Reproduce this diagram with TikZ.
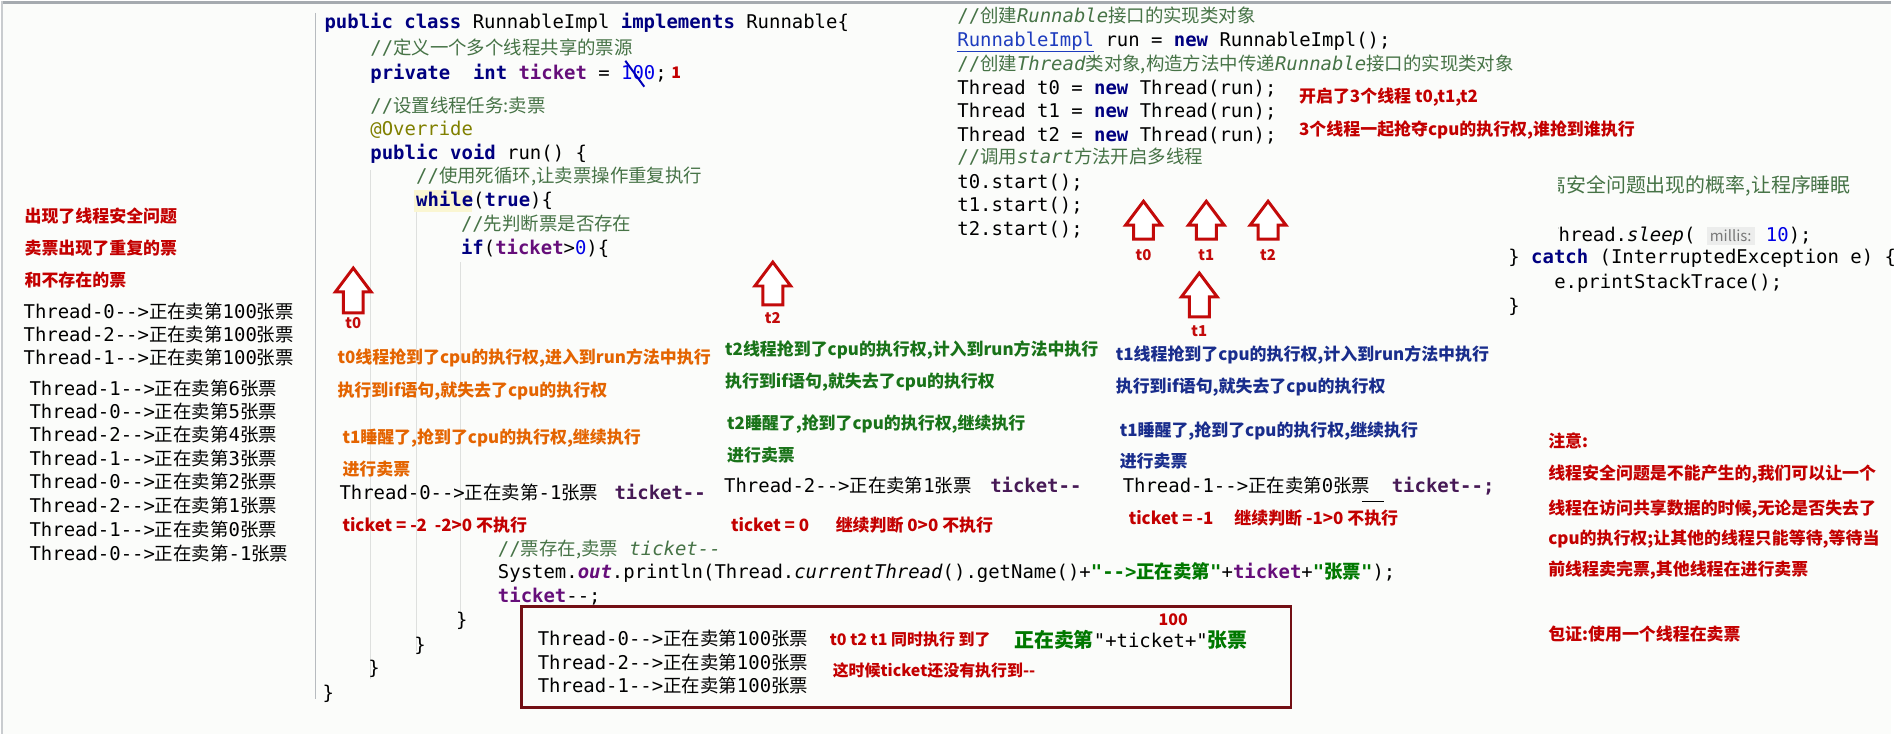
\documentclass[tikz,border=0pt]{standalone}
\usepackage{fontspec}
\usepackage{xcolor}
\usepackage{tikz}
\setmonofont{DejaVu Sans Mono}
\newfontfamily\cjk{Noto Sans CJK SC}

\definecolor{bgpaper}{RGB}{251,252,250}
\definecolor{framegray}{RGB}{165,170,175}
\definecolor{guidegray}{RGB}{222,224,222}
\definecolor{kwnavy}{RGB}{0,0,128}
\definecolor{fldpurple}{RGB}{102,14,122}
\definecolor{cmtgreen}{RGB}{70,115,70}
\definecolor{strgreen}{RGB}{0,120,0}
\definecolor{numblue}{RGB}{0,0,230}
\definecolor{annolive}{RGB}{128,128,0}
\definecolor{linkblue}{RGB}{30,60,190}
\definecolor{hintgray}{RGB}{120,120,120}
\definecolor{hintbg}{RGB}{236,237,236}
\definecolor{whilehl}{RGB}{250,246,210}
\definecolor{arrowred}{RGB}{195,10,10}
\definecolor{notered}{RGB}{195,0,0}
\definecolor{t0orange}{RGB}{228,100,0}
\definecolor{t2green}{RGB}{25,115,25}
\definecolor{t1navy}{RGB}{25,45,140}
\definecolor{boxred}{RGB}{115,15,20}
\definecolor{decpurple}{RGB}{70,25,85}

\newcommand\zh[1]{{\cjk\fontsize{18.5}{22}\selectfont #1}}
\newcommand\jkw[1]{\textcolor{kwnavy}{\bfseries #1}}
\newcommand\jfld[1]{\textcolor{fldpurple}{\bfseries #1}}
\newcommand\jcmt[1]{\textcolor{cmtgreen}{#1}}
\newcommand\jnum[1]{\textcolor{numblue}{#1}}
\newcommand\jstr[1]{\textcolor{strgreen}{\bfseries #1}}
\newcommand\hollowup[3]{\draw[hollow] (#1,#2) -- ++(18,24) -- ++(-8,0) -- ++(0,#3-24) -- ++(-20,0) -- ++(0,24-#3) -- ++(-8,0) -- cycle;}

\begin{document}
\begin{tikzpicture}[x=1pt,y=-1pt,
  code/.style={anchor=west,inner sep=0pt,text height=15pt,text depth=4pt,font=\ttfamily\fontsize{19}{23}\selectfont},
  ann/.style={anchor=west,inner sep=0pt,text height=14pt,text depth=4pt,font=\cjk\bfseries\fontsize{17}{20}\selectfont},
  small/.style={ann,font=\cjk\bfseries\fontsize{16}{19}\selectfont},
  lbl/.style={inner sep=0pt,text=arrowred,font=\cjk\bfseries\fontsize{15}{18}\selectfont},
  hollow/.style={draw=arrowred,fill=white,line width=3pt,line join=miter},
  guide/.style={draw=guidegray,line width=1pt}]
  \fill[bgpaper] (0,0) rectangle (1896,736);
  \draw[framegray,line width=3pt] (0,1.5) -- (1896,1.5);
  \draw[framegray!60,line width=2pt] (1,0) -- (1,736);
  \draw[framegray!80,line width=1.2pt] (315,12) -- (315,700);
  \draw[guide] (370,170) -- (370,680);
  \draw[guide] (416,196) -- (416,652);
  \draw[guide] (461,262) -- (461,624);
  \fill[whilehl] (414,190) rectangle (472,212);

  % RunnableImpl
  \node[code] (c1) at (324,22) {\jkw{public} \jkw{class} RunnableImpl \jkw{implements} Runnable\{};
  \node[code] (c2) at (370,48) {\jcmt{//\zh{定义一个多个线程共享的票源}}};
  \node[code] (c3) at (370,73) {\jkw{private}\ \ \jkw{int} \jfld{ticket} = \jnum{100};};
  \node[code,text=notered,font=\cjk\bfseries\fontsize{16}{19}\selectfont] (one) at (672,72) {1};
  \draw[numblue!80!black,line width=2pt] (626,60) -- (645,86);
  \node[code] (c4) at (370,106) {\jcmt{//\zh{设置线程任务:卖票}}};
  \node[code] (c5) at (370,129) {\textcolor{annolive}{@Override}};
  \node[code] (c6) at (370,154) {\jkw{public} \jkw{void} run() \{};
  \node[code] (c7) at (416,177) {\jcmt{//\zh{使用死循环,让卖票操作重复执行}}};
  \node[code] (c8) at (416,201) {\jkw{while}(\jkw{true})\{};
  \node[code] (c9) at (461,225) {\jcmt{//\zh{先判断票是否存在}}};
  \node[code] (c10) at (461,249) {\jkw{if}(\jfld{ticket}>\jnum{0})\{};
  \node[code] (c11) at (498,551) {\jcmt{//\zh{票存在,卖票} \textit{ticket--}}};
  \node[code] (c12) at (498,574) {System.\textit{\jfld{out}}.println(Thread.\textit{currentThread}().getName()+\jstr{"-->\zh{正在卖第}"}+\jfld{ticket}+\jstr{"\zh{张票}"});};
  \node[code] (c13) at (498,598) {\jfld{ticket}--;};
  \node[code] (c14) at (456,622) {\}};
  \node[code] (c15) at (414,647) {\}};
  \node[code] (c16) at (368,670) {\}};
  \node[code] (c17) at (322,695) {\}};

  % main
  \node[code] (r1) at (959,16) {\jcmt{//\zh{创建}\textit{Runnable}\zh{接口的实现类对象}}};
  \node[code] (r2) at (959,40) {\textcolor{linkblue}{\underline{RunnableImpl}} run = \jkw{new} RunnableImpl();};
  \node[code] (r3) at (959,64) {\jcmt{//\zh{创建}\textit{Thread}\zh{类对象,构造方法中传递}\textit{Runnable}\zh{接口的实现类对象}}};
  \node[code] (r4) at (959,88) {Thread t0 = \jkw{new} Thread(run);};
  \node[code] (r5) at (959,111) {Thread t1 = \jkw{new} Thread(run);};
  \node[code] (r6) at (959,135) {Thread t2 = \jkw{new} Thread(run);};
  \node[code] (r7) at (959,158) {\jcmt{//\zh{调用}\textit{start}\zh{方法开启多线程}}};
  \node[code] (r8) at (959,183) {t0.start();};
  \node[code] (r9) at (959,206) {t1.start();};
  \node[code] (r10) at (959,230) {t2.start();};
  \node[ann,text=notered] (e1) at (1302,97) {开启了3个线程 t0,t1,t2};
  \node[ann,text=notered] (e2) at (1302,130) {3个线程一起抢夺cpu的执行权,谁抢到谁执行};
  \hollowup{1146}{201}{38}
  \hollowup{1209}{201}{38}
  \hollowup{1271}{201}{38}
  \node[lbl] (s0) at (1146,255) {t0};
  \node[lbl] (s1) at (1209,255) {t1};
  \node[lbl] (s2) at (1271,255) {t2};

  % sleep
  \begin{scope}
    \clip (1562,168) rectangle (1896,250);
    \node[code] (p1) at (1530,187) {\jcmt{{\cjk\fontsize{20}{24}\selectfont 提高安全问题出现的概率,让程序睡眠}}};
    \node[code] (p2) at (1551,236) {Thread.\textit{sleep}( \colorbox{hintbg}{\cjk\fontsize{15}{18}\selectfont\textcolor{hintgray}{millis:}} \jnum{10});};
  \end{scope}
  \node[code] (p3) at (1512,258) {\} \jkw{catch} (InterruptedException e) \{};
  \node[code] (p4) at (1558,283) {e.printStackTrace();};
  \node[code] (p5) at (1512,307) {\}};

  % console
  \node[ann,text=notered] (l1) at (23,217) {出现了线程安全问题};
  \node[ann,text=notered] (l2) at (23,249) {卖票出现了重复的票};
  \node[ann,text=notered] (l3) at (23,281) {和不存在的票};
  \node[code] (o1) at (22,313) {Thread-0-->\zh{正在卖第}100\zh{张票}};
  \node[code] (o2) at (22,336) {Thread-2-->\zh{正在卖第}100\zh{张票}};
  \node[code] (o3) at (22,359) {Thread-1-->\zh{正在卖第}100\zh{张票}};
  \node[code] (o4) at (28,390) {Thread-1-->\zh{正在卖第}6\zh{张票}};
  \node[code] (o5) at (28,413) {Thread-0-->\zh{正在卖第}5\zh{张票}};
  \node[code] (o6) at (28,437) {Thread-2-->\zh{正在卖第}4\zh{张票}};
  \node[code] (o7) at (28,461) {Thread-1-->\zh{正在卖第}3\zh{张票}};
  \node[code] (o8) at (28,484) {Thread-0-->\zh{正在卖第}2\zh{张票}};
  \node[code] (o9) at (28,508) {Thread-2-->\zh{正在卖第}1\zh{张票}};
  \node[code] (o10) at (28,532) {Thread-1-->\zh{正在卖第}0\zh{张票}};
  \node[code] (o11) at (28,556) {Thread-0-->\zh{正在卖第}-1\zh{张票}};

  % t0
  \hollowup{353}{268}{45}
  \node[lbl] (u0) at (353,323) {t0};
  \node[ann,text=t0orange] (a1) at (337,359) {t0线程抢到了cpu的执行权,进入到run方法中执行};
  \node[ann,text=t0orange] (a2) at (337,392) {执行到if语句,就失去了cpu的执行权};
  \node[ann,text=t0orange] (a3) at (342,439) {t1睡醒了,抢到了cpu的执行权,继续执行};
  \node[ann,text=t0orange] (a4) at (342,471) {进行卖票};
  \node[code] (a5) at (339,495) {Thread-0-->\zh{正在卖第}-1\zh{张票}};
  \node[code,text=decpurple] (a6) at (615,495) {\bfseries ticket--};
  \node[ann,text=notered] (a7) at (342,527) {ticket = -2\ \ -2>0 不执行};

  % t2
  \hollowup{774}{262}{43}
  \node[lbl] (u2) at (774,318) {t2};
  \node[ann,text=t2green] (b1) at (726,351) {t2线程抢到了cpu的执行权,计入到run方法中执行};
  \node[ann,text=t2green] (b2) at (726,383) {执行到if语句,就失去了cpu的执行权};
  \node[ann,text=t2green] (b3) at (728,425) {t2睡醒了,抢到了cpu的执行权,继续执行};
  \node[ann,text=t2green] (b4) at (728,457) {进行卖票};
  \node[code] (b5) at (725,488) {Thread-2-->\zh{正在卖第}1\zh{张票}};
  \node[code,text=decpurple] (b6) at (992,488) {\bfseries ticket--};
  \node[ann,text=notered] (b7) at (732,527) {ticket = 0};
  \node[ann,text=notered] (b8) at (837,527) {继续判断 0>0 不执行};

  % t1
  \hollowup{1202}{273}{44}
  \node[lbl] (u1) at (1202,331) {t1};
  \node[ann,text=t1navy] (d1) at (1118,356) {t1线程抢到了cpu的执行权,计入到run方法中执行};
  \node[ann,text=t1navy] (d2) at (1118,388) {执行到if语句,就失去了cpu的执行权};
  \node[ann,text=t1navy] (d3) at (1122,432) {t1睡醒了,抢到了cpu的执行权,继续执行};
  \node[ann,text=t1navy] (d4) at (1122,463) {进行卖票};
  \node[code] (d5) at (1125,488) {Thread-1-->\zh{正在卖第}0\zh{张票}};
  \draw[line width=1.2pt] (1365,502) -- (1387,502);
  \node[code,text=decpurple] (d6) at (1395,488) {\bfseries ticket--;};
  \node[ann,text=notered] (d7) at (1131,520) {ticket = -1};
  \node[ann,text=notered] (d8) at (1237,520) {继续判断 -1>0 不执行};

  % note
  \node[ann,text=notered] (n1) at (1552,443) {注意:};
  \node[ann,text=notered] (n2) at (1552,475) {线程安全问题是不能产生的,我们可以让一个};
  \node[ann,text=notered] (n3) at (1552,510) {线程在访问共享数据的时候,无论是否失去了};
  \node[ann,text=notered] (n4) at (1552,540) {cpu的执行权;让其他的线程只能等待,等待当};
  \node[ann,text=notered] (n5) at (1552,572) {前线程卖完票,其他线程在进行卖票};
  \node[ann,text=notered] (n6) at (1552,637) {包证:使用一个线程在卖票};

  % box
  \draw[boxred,line width=3pt] (522,608) rectangle (1294,709);
  \node[code] (x1) at (538,641) {Thread-0-->\zh{正在卖第}100\zh{张票}};
  \node[code] (x2) at (538,665) {Thread-2-->\zh{正在卖第}100\zh{张票}};
  \node[code] (x3) at (538,688) {Thread-1-->\zh{正在卖第}100\zh{张票}};
  \node[small,text=notered] (f1) at (831,642) {t0 t2 t1 同时执行 到了};
  \node[code] (f2) at (1016,643) {\textcolor{strgreen}{\cjk\bfseries\fontsize{20}{24}\selectfont 正在卖第}"+ticket+"\textcolor{strgreen}{\cjk\bfseries\fontsize{20}{24}\selectfont 张票}};
  \node[small,text=notered] (f3) at (1161,622) {100};
  \node[small,text=notered] (f4) at (834,673) {这时候ticket还没有执行到-{}-};
\end{tikzpicture}
\end{document}
